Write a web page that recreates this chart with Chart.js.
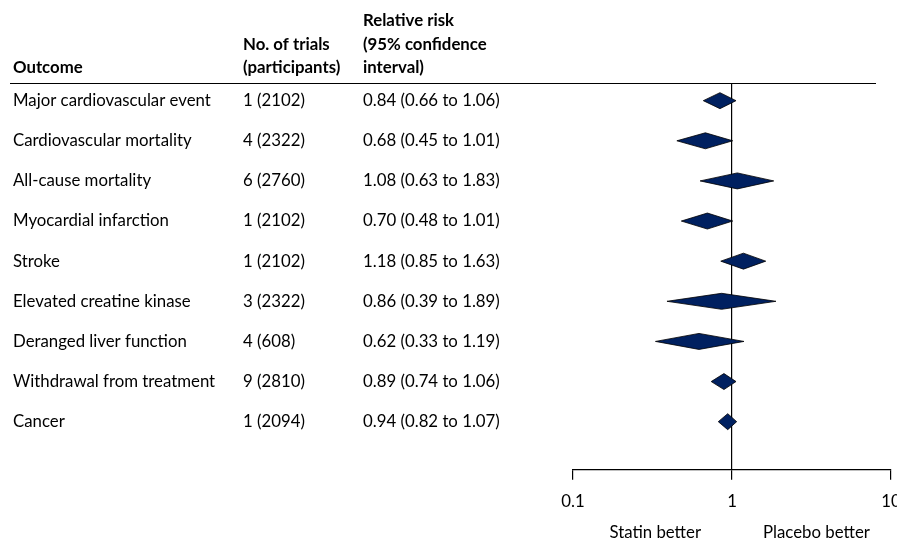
<!DOCTYPE html>
<html>
<head>
<meta charset="utf-8">
<script src="https://cdn.jsdelivr.net/npm/chart.js@4/dist/chart.umd.min.js"></script>
<style>
  html, body { margin: 0; padding: 0; background: #fff; }
  #wrap { width: 897px; height: 540px; position: relative; }
</style>
</head>
<body>
<div id="wrap"><canvas id="forest"></canvas></div>
<script>
// Forest plot data
const outcomes = [
  'Major cardiovascular event',
  'Cardiovascular mortality',
  'All-cause mortality',
  'Myocardial infarction',
  'Stroke',
  'Elevated creatine kinase',
  'Deranged liver function',
  'Withdrawal from treatment',
  'Cancer'
];
const trials = [1, 4, 6, 1, 1, 3, 4, 9, 1];
const participants = [2102, 2322, 2760, 2102, 2102, 2322, 608, 2810, 2094];
const rr = [0.84, 0.68, 1.08, 0.70, 1.18, 0.86, 0.62, 0.89, 0.94];
const lower = [0.66, 0.45, 0.63, 0.48, 0.85, 0.39, 0.33, 0.74, 0.82];
const upper = [1.06, 1.01, 1.83, 1.01, 1.63, 1.89, 1.19, 1.06, 1.07];
const xTicks = [0.1, 1, 10];

const FONT = "Lato, 'Open Sans', sans-serif";
const FSIZE = 16.8;
const NAVY = '#002060';

// table text + diamonds + header rule
const forestPlugin = {
  id: 'forest',
  afterDatasetsDraw(chart) {
    const { ctx, chartArea, scales } = chart;
    const x = scales.x, y = scales.y;
    const colOutcome = 13, colTrials = 243, colRR = 363;

    ctx.save();
    ctx.fillStyle = '#000';
    ctx.textBaseline = 'middle';
    ctx.textAlign = 'left';

    // header
    ctx.font = 'bold ' + FSIZE + 'px ' + FONT;
    const top = chartArea.top;
    ctx.fillText('Outcome', colOutcome, top - 15);
    ctx.fillText('No. of trials', colTrials, top - 38);
    ctx.fillText('(participants)', colTrials, top - 15);
    ctx.fillText('Relative risk', colRR, top - 62);
    ctx.fillText('(95% confidence', colRR, top - 38);
    ctx.fillText('interval)', colRR, top - 15);

    // header rule
    ctx.strokeStyle = '#000';
    ctx.lineWidth = 1.2;
    ctx.beginPath();
    ctx.moveTo(10, top + 0.5);
    ctx.lineTo(876, top + 0.5);
    ctx.stroke();

    // rows
    ctx.font = FSIZE + 'px ' + FONT;
    outcomes.forEach((name, i) => {
      const py = y.getPixelForValue(i);
      ctx.fillText(name, colOutcome, py);
      ctx.fillText(trials[i] + ' (' + participants[i] + ')', colTrials, py);
      ctx.fillText(rr[i].toFixed(2) + ' (' + lower[i].toFixed(2) + ' to ' + upper[i].toFixed(2) + ')', colRR, py);

      const half = 8;
      const xl = x.getPixelForValue(lower[i]);
      const xm = x.getPixelForValue(rr[i]);
      const xh = x.getPixelForValue(upper[i]);
      ctx.beginPath();
      ctx.moveTo(xl, py);
      ctx.lineTo(xm, py - half);
      ctx.lineTo(xh, py);
      ctx.lineTo(xm, py + half);
      ctx.closePath();
      ctx.fillStyle = NAVY;
      ctx.fill();
      ctx.lineWidth = 0.8;
      ctx.strokeStyle = '#000';
      ctx.stroke();
      ctx.fillStyle = '#000';
    });

    // direction labels
    const x1 = x.getPixelForValue(1);
    ctx.textAlign = 'right';
    ctx.fillText('Statin better', x1 - 31, chartArea.bottom + 63);
    ctx.textAlign = 'left';
    ctx.fillText('Placebo better', x1 + 31, chartArea.bottom + 63);
    ctx.restore();
  }
};

new Chart(document.getElementById('forest'), {
  type: 'scatter',
  data: {
    datasets: [{
      data: rr.map((v, i) => ({ x: v, y: i })),
      pointRadius: 0,
      pointHoverRadius: 0,
    }],
  },
  options: {
    responsive: true,
    maintainAspectRatio: false,
    animation: false,
    layout: {
      padding: { top: 83, left: 573, right: 0, bottom: 16 },
    },
    plugins: {
      legend: { display: false },
      tooltip: { enabled: false },
    },
    scales: {
      x: {
        type: 'logarithmic',
        min: 0.1,
        max: 10,
        afterBuildTicks: scale => {
          scale.ticks = xTicks.map(v => ({ value: v }));
        },
        afterFit: scale => {
          // let the "10" label hang past the plot edge like the original
          scale.paddingLeft = 0;
          scale.paddingRight = 6;
        },
        border: { display: true, color: '#000', width: 1.2 },
        grid: {
          drawOnChartArea: true,
          color: c => (c.tick && c.tick.value === 1 ? '#000' : 'rgba(0,0,0,0)'),
          lineWidth: 1.2,
          tickColor: '#000',
          tickLength: 10,
        },
        ticks: {
          color: '#000',
          font: { family: FONT, size: FSIZE },
          padding: 12,
          maxRotation: 0,
          autoSkip: false,
          callback: v => String(v),
        },
      },
      y: {
        type: 'linear',
        reverse: true,
        min: -0.44,
        max: 9.2,
        display: false,
      },
    },
  },
  plugins: [forestPlugin],
});
</script>
</body>
</html>
